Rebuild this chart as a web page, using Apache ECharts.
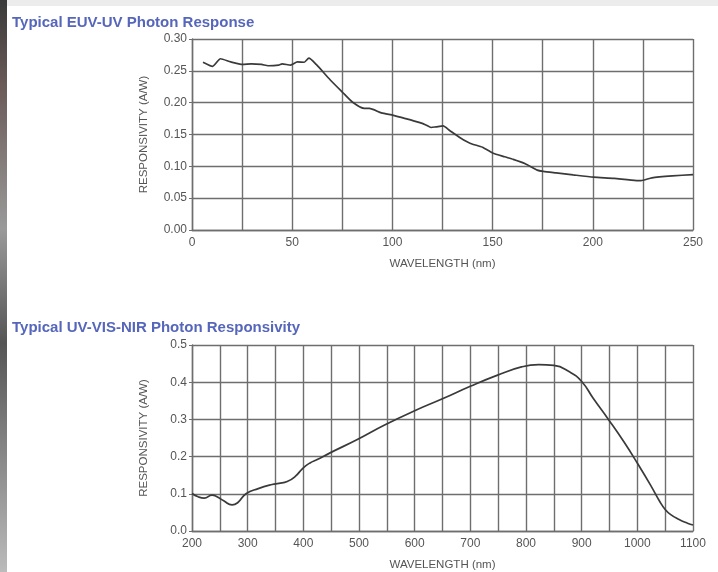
<!DOCTYPE html>
<html>
<head>
<meta charset="utf-8">
<script src="https://cdn.jsdelivr.net/npm/echarts@6/dist/echarts.min.js"></script>
<style>html,body{margin:0;padding:0;background:#fff}#c{width:718px;height:572px}</style>
</head>
<body>
<div id="c"></div>
<script>
// Top chart: EUV-UV response (wavelength nm, responsivity A/W)
const euvWavelength = [5.5,10.3,14.2,19.3,25.3,29.6,34.7,38,43.2,45,49.2,52.6,56,58.3,62,68.9,75.2,80,86,88.5,94.5,100.5,106.5,113.3,116.7,119.3,121.8,125.3,128.7,133.8,139,144.9,150,156,160.3,166.3,172.3,175.3,181.7,190.2,200.4,210.7,221.8,224,229.5,239.7,250];
const euvResponse   = [0.2635,0.257,0.269,0.264,0.260,0.261,0.260,0.258,0.259,0.261,0.259,0.264,0.2635,0.270,0.260,0.236,0.216,0.201,0.191,0.191,0.184,0.180,0.175,0.169,0.165,0.161,0.162,0.1635,0.156,0.145,0.136,0.130,0.121,0.115,0.111,0.104,0.094,0.092,0.0896,0.0865,0.083,0.081,0.0776,0.0776,0.082,0.085,0.087];
// Bottom chart: UV-VIS-NIR responsivity
const visWavelength = [200,211,222,236,245,257,272,282,297,319,344,356,371,385,400,412,425,448,497,546,601,651,700,749,792,823,850,878,900,921,949,977,1001,1025,1040,1050,1060,1075,1090,1100];
const visResponse   = [0.1007,0.092,0.0885,0.0965,0.092,0.081,0.070,0.076,0.100,0.114,0.125,0.128,0.133,0.146,0.170,0.183,0.192,0.210,0.246,0.285,0.324,0.356,0.389,0.419,0.441,0.447,0.445,0.428,0.402,0.356,0.298,0.237,0.180,0.120,0.080,0.058,0.044,0.031,0.021,0.016];

const titles = ['Typical EUV-UV Photon Response', 'Typical UV-VIS-NIR Photon Responsivity'];
const xName = 'WAVELENGTH (nm)';
const yName = 'RESPONSIVITY (A/W)';

const gridColor = '#6e6e6e';
const labelColor = '#555';
const font = 'Liberation Sans, Arial, sans-serif';

function xAxis(gi, min, max, interval, labelStep) {
  return {
    type: 'value', gridIndex: gi, min, max, interval,
    name: xName, nameLocation: 'middle', nameGap: 28,
    nameTextStyle: { color: labelColor, fontSize: 11.5, fontFamily: font },
    axisLine: { show: true, lineStyle: { color: gridColor, width: 1.4 } },
    axisTick: { show: false },
    axisLabel: { color: labelColor, fontSize: 12, fontFamily: font, margin: 7,
      formatter: v => (Math.round(v) % labelStep === 0 ? String(v) : '') },
    splitLine: { show: true, lineStyle: { color: gridColor, width: 1.4 } }
  };
}
function yAxis(gi, min, max, interval, dec) {
  return {
    type: 'value', gridIndex: gi, min, max, interval,
    name: yName, nameLocation: 'middle', nameGap: 42,
    nameTextStyle: { color: labelColor, fontSize: 11.5, fontFamily: font },
    axisLine: { show: true, lineStyle: { color: gridColor, width: 1.4 } },
    axisTick: { show: true, length: 3, lineStyle: { color: gridColor } },
    axisLabel: { color: labelColor, fontSize: 12, fontFamily: font, margin: 5,
      formatter: v => v.toFixed(dec) },
    splitLine: { show: true, lineStyle: { color: gridColor, width: 1.4 } }
  };
}

const chart = echarts.init(document.getElementById('c'), null, { renderer: 'canvas' });
chart.setOption({
  backgroundColor: '#fff',
  animation: false,
  graphic: [
    { type: 'rect', shape: { x: 0, y: 0, width: 718, height: 6 }, style: { fill: '#ececec' }, silent: true },
    { type: 'rect', shape: { x: 0, y: 0, width: 7, height: 572 },
      style: { fill: new echarts.graphic.LinearGradient(0, 0, 0, 1, [
        { offset: 0, color: '#3a3a3a' }, { offset: 0.15, color: '#6a5a58' }, { offset: 0.4, color: '#9a9a9a' },
        { offset: 0.6, color: '#555' }, { offset: 0.8, color: '#888' }, { offset: 1, color: '#bbb' }]) }, silent: true }
  ],
  title: [
    { text: titles[0], left: 7, top: 10, textStyle: { color: '#5566bb', fontSize: 15, fontWeight: 'bold', fontFamily: font } },
    { text: titles[1], left: 7, top: 315, textStyle: { color: '#5566bb', fontSize: 15, fontWeight: 'bold', fontFamily: font } }
  ],
  grid: [
    { left: 192, right: 25, top: 39, height: 191 },
    { left: 192, right: 25, top: 345, height: 189 }
  ],
  xAxis: [ xAxis(0, 0, 250, 25, 50), xAxis(1, 200, 1100, 50, 100) ],
  yAxis: [ yAxis(0, 0, 0.30, 0.05, 2), yAxis(1, 0, 0.5, 0.1, 1) ],
  series: [
    { type: 'line', xAxisIndex: 0, yAxisIndex: 0, showSymbol: false, smooth: 0.2,
      data: euvWavelength.map((x, i) => [x, euvResponse[i]]),
      lineStyle: { color: '#3a3a3a', width: 1.7 } },
    { type: 'line', xAxisIndex: 1, yAxisIndex: 1, showSymbol: false, smooth: 0.5,
      data: visWavelength.map((x, i) => [x, visResponse[i]]),
      lineStyle: { color: '#3a3a3a', width: 1.7 } }
  ]
});
</script>
</body>
</html>
